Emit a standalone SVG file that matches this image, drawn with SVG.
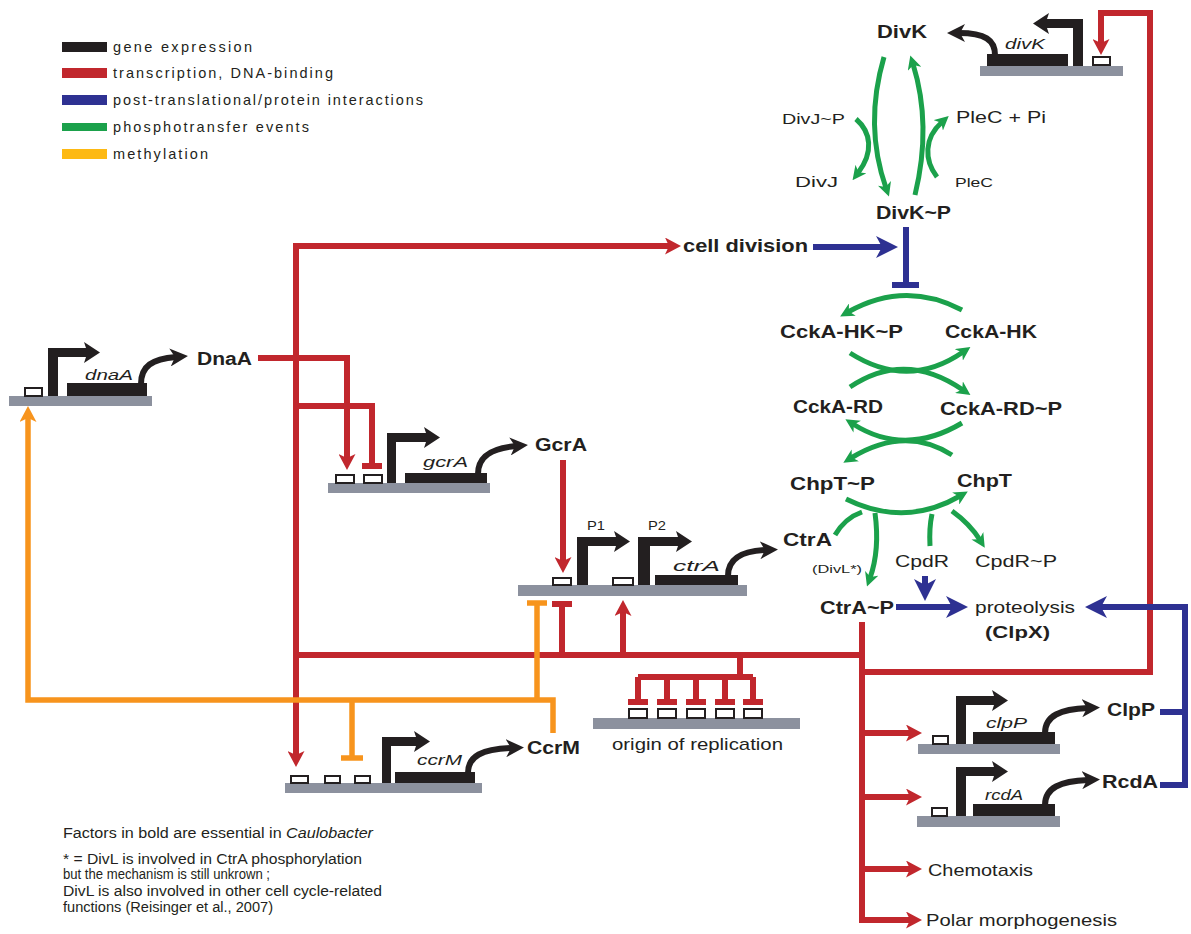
<svg xmlns="http://www.w3.org/2000/svg" width="1191" height="934" viewBox="0 0 1191 934">
<defs>
<style>
text{font-family:"Liberation Sans",Arial,sans-serif;fill:#231f20}
.b{font-weight:bold}
.i{font-style:italic}
.dna{fill:#8c919e}
.gene{fill:#231f20}
.box{fill:#fff;stroke:#231f20;stroke-width:2}
.r{stroke:#c1272d;stroke-width:6;fill:none}
.bl{stroke:#2e3192;stroke-width:6;fill:none}
.g{stroke:#1ba14b;stroke-width:5;fill:none}
.o{stroke:#f7941d;stroke-width:5.5;fill:none}
.k{stroke:#231f20;stroke-width:6;fill:none}
</style>
<marker id="aR" markerUnits="userSpaceOnUse" viewBox="0 0 16 17" refX="5" refY="8.5" markerWidth="16" markerHeight="17" orient="auto-start-reverse"><path d="M0,0 L16,8.5 L0,17 L4,8.5 z" fill="#c1272d"/></marker>
<marker id="aO" markerUnits="userSpaceOnUse" viewBox="0 0 16 17" refX="5" refY="8.5" markerWidth="16" markerHeight="17" orient="auto-start-reverse"><path d="M0,0 L16,8.5 L0,17 L4,8.5 z" fill="#f7941d"/></marker>
<marker id="aB" markerUnits="userSpaceOnUse" viewBox="0 0 22 22" refX="7" refY="11" markerWidth="22" markerHeight="22" orient="auto"><path d="M0,0 L22,11 L0,22 L6,11 z" fill="#2e3192"/></marker>
<marker id="aG" markerUnits="userSpaceOnUse" viewBox="0 0 14 14" refX="5" refY="7" markerWidth="14" markerHeight="14" orient="auto"><path d="M0,0 L14,7 L0,14 L4,7 z" fill="#1ba14b"/></marker>
<marker id="aK" markerUnits="userSpaceOnUse" viewBox="0 0 18 18" refX="6" refY="9" markerWidth="18" markerHeight="18" orient="auto"><path d="M0,0 L18,9 L0,18 L5,9 z" fill="#231f20"/></marker>
</defs>
<rect width="1191" height="934" fill="#fff"/>

<g id="legend">
<rect x="62" y="42" width="45" height="10" fill="#231f20"/>
<rect x="62" y="68" width="45" height="10" fill="#c1272d"/>
<rect x="62" y="95" width="45" height="10" fill="#2e3192"/>
<rect x="62" y="123" width="45" height="8" fill="#1ba14b"/>
<rect x="62" y="149" width="45" height="10" fill="#fdb913"/>
<text x="113" y="52" font-size="14.5" textLength="139">gene expression</text>
<text x="113" y="78" font-size="14.5" textLength="220">transcription, DNA-binding</text>
<text x="113" y="105" font-size="14.5" textLength="310">post-translational/protein interactions</text>
<text x="113" y="132" font-size="14.5" textLength="196">phosphotransfer events</text>
<text x="113" y="159" font-size="14.5" textLength="95">methylation</text>
</g>

<g id="connectors">
<path class="r" d="M670,246 H296 V756" marker-start="url(#aR)" marker-end="url(#aR)"/>
<path class="r" d="M258,358 H347 V459" marker-end="url(#aR)"/>
<path class="r" d="M296,406 H372 V466"/>
<path class="r" d="M362,466 H382"/>
<path class="r" d="M563,460 V562" marker-end="url(#aR)"/>
<path class="r" d="M562,655 V604"/>
<path class="r" d="M552,604 H572"/>
<path class="r" d="M623,655 V611" marker-end="url(#aR)"/>
<path class="r" d="M296,655 H862"/>
<path class="r" d="M862,622 V920 H911" marker-end="url(#aR)"/>
<path class="r" d="M862,733 H911" marker-end="url(#aR)"/>
<path class="r" d="M862,797 H911" marker-end="url(#aR)"/>
<path class="r" d="M862,869 H911" marker-end="url(#aR)"/>
<path class="r" d="M862,672 H1150 V13 H1101 V44" marker-end="url(#aR)"/>
<path class="r" d="M740,655 V677 M638,677 H753 M638,677 V702 M667,677 V702 M696,677 V702 M725,677 V702 M753,677 V702"/>
<path class="r" d="M628,702 H648 M657,702 H677 M686,702 H706 M715,702 H735 M743,702 H763"/>
<path class="o" d="M28,417 V700 H553 V733" marker-start="url(#aO)"/>
<path class="o" d="M537,700 V603"/>
<path class="o" d="M527,603 H547"/>
<path class="o" d="M352,700 V758"/>
<path class="o" d="M341,758 H363"/>
<path class="bl" d="M813,247 H883" marker-end="url(#aB)"/>
<path class="bl" d="M906,227 V285"/>
<path class="bl" d="M892,285 H919" stroke-width="9"/>
<path class="bl" d="M896,607 H953" marker-end="url(#aB)"/>
<path class="bl" d="M925,576 V586" marker-end="url(#aB)"/>
<path class="bl" d="M1160,712 H1185 V607 H1100" marker-end="url(#aB)"/>
<path class="bl" d="M1160,785 H1185 V712"/>
<path class="g" d="M884,57 Q864,125 886,188" marker-end="url(#aG)"/>
<path class="g" d="M915,195 Q932,125 913,64" marker-end="url(#aG)"/>
<path class="g" d="M856,119 C871,132 874,152 858,173" marker-end="url(#aG)"/>
<path class="g" d="M937,177 C924,160 924,138 942,122" marker-end="url(#aG)"/>
<path class="g" d="M962,310 Q905,280 848,312" marker-end="url(#aG)"/>
<path class="g" d="M850,353 Q908,390 963,352" marker-end="url(#aG)"/>
<path class="g" d="M850,387 Q905,350 963,390" marker-end="url(#aG)"/>
<path class="g" d="M962,423 Q905,457 853,424" marker-end="url(#aG)"/>
<path class="g" d="M952,455 Q905,425 851,458" marker-end="url(#aG)"/>
<path class="g" d="M846,499 Q905,528 960,496" marker-end="url(#aG)"/>
<path class="g" d="M835,535 Q845,518 862,512"/>
<path class="g" d="M875,513 Q880,550 870,578" marker-end="url(#aG)"/>
<path class="g" d="M930,546 Q929,528 932,514"/>
<path class="g" d="M952,511 Q970,524 980,540" marker-end="url(#aG)"/>
</g>

<g id="dnaA">
<rect class="dna" x="9" y="396" width="143" height="10"/>
<rect class="box" x="25" y="388" width="17" height="8"/>
<polygon class="gene" points="48,396 48,348 86,348 84,342 100,352.5 84,363 86,357 58,357 58,396"/>
<rect class="gene" x="67" y="383" width="80" height="13"/>
<path class="k" d="M141,384 C141,366 152,359 176,357" marker-end="url(#aK)"/>
<text class="i" x="85" y="380" font-size="15" textLength="48" lengthAdjust="spacingAndGlyphs">dnaA</text>
<text class="b" x="197" y="365" font-size="18" textLength="55" lengthAdjust="spacingAndGlyphs">DnaA</text>
</g>

<g id="gcrA">
<rect class="dna" x="328" y="483" width="162" height="10"/>
<rect class="box" x="336" y="475" width="18" height="8"/>
<rect class="box" x="364" y="475" width="18" height="8"/>
<polygon class="gene" points="387,483 387,433 426,433 424,427 440,437.5 424,448 426,442 396,442 396,483"/>
<rect class="gene" x="405" y="473" width="82" height="10"/>
<path class="k" d="M478,474 C478,456 492,448 516,446" marker-end="url(#aK)"/>
<text class="i" x="423" y="467" font-size="15" textLength="45" lengthAdjust="spacingAndGlyphs">gcrA</text>
<text class="b" x="535" y="451" font-size="18" textLength="52" lengthAdjust="spacingAndGlyphs">GcrA</text>
</g>

<g id="ctrA">
<rect class="dna" x="518" y="585" width="229" height="11"/>
<rect class="box" x="553" y="578" width="18" height="7"/>
<rect class="box" x="613" y="578" width="20" height="7"/>
<polygon class="gene" points="577,585 577,537 616,537 614,531 630,541.5 614,552 616,546 588,546 588,585"/>
<polygon class="gene" points="638,585 638,537 678,537 676,531 692,541.5 676,552 678,546 650,546 650,585"/>
<rect class="gene" x="655" y="575" width="83" height="10"/>
<path class="k" d="M728,576 C728,558 742,551 766,550" marker-end="url(#aK)"/>
<text x="587" y="530" font-size="13" textLength="18" lengthAdjust="spacingAndGlyphs">P1</text>
<text x="648" y="530" font-size="13" textLength="18" lengthAdjust="spacingAndGlyphs">P2</text>
<text class="i" x="673" y="571" font-size="15" textLength="47" lengthAdjust="spacingAndGlyphs">ctrA</text>
</g>

<g id="ccrM">
<rect class="dna" x="285" y="783" width="197" height="10"/>
<rect class="box" x="291" y="776" width="17" height="7"/>
<rect class="box" x="325" y="776" width="15" height="7"/>
<rect class="box" x="355" y="776" width="15" height="7"/>
<polygon class="gene" points="382,783 382,737 416,737 414,731 430,741.5 414,752 416,746 391,746 391,783"/>
<rect class="gene" x="395" y="772" width="80" height="11"/>
<path class="k" d="M468,773 C468,756 482,749 512,748" marker-end="url(#aK)"/>
<text class="i" x="417" y="765" font-size="15" textLength="45" lengthAdjust="spacingAndGlyphs">ccrM</text>
<text class="b" x="527" y="754" font-size="18" textLength="53" lengthAdjust="spacingAndGlyphs">CcrM</text>
</g>

<g id="origin">
<rect class="dna" x="593" y="718" width="207" height="11"/>
<rect class="box" x="629" y="709" width="18" height="9"/>
<rect class="box" x="658" y="709" width="18" height="9"/>
<rect class="box" x="687" y="709" width="18" height="9"/>
<rect class="box" x="716" y="709" width="18" height="9"/>
<rect class="box" x="744" y="709" width="18" height="9"/>
<text x="612" y="750" font-size="17" textLength="171" lengthAdjust="spacingAndGlyphs">origin of replication</text>
</g>

<g id="divK">
<rect class="dna" x="980" y="66" width="143" height="10"/>
<rect class="box" x="1093" y="57" width="17" height="8"/>
<polygon class="gene" points="1083,66 1083,19 1047,19 1049,13 1033,23.5 1049,34 1047,28 1073,28 1073,66"/>
<rect class="gene" x="987" y="54" width="81" height="12"/>
<path class="k" d="M995,55 C995,40 985,33 959,33" marker-end="url(#aK)"/>
<text class="i" x="1005" y="49" font-size="15" textLength="40" lengthAdjust="spacingAndGlyphs">divK</text>
<text class="b" x="877" y="38" font-size="18" textLength="50" lengthAdjust="spacingAndGlyphs">DivK</text>
</g>

<g id="divk-cycle">
<text x="782" y="124" font-size="15" textLength="63" lengthAdjust="spacingAndGlyphs">DivJ~P</text>
<text x="795" y="187" font-size="15" textLength="43" lengthAdjust="spacingAndGlyphs">DivJ</text>
<text x="956" y="123" font-size="17" textLength="90" lengthAdjust="spacingAndGlyphs">PleC + Pi</text>
<text x="955" y="187" font-size="13" textLength="38" lengthAdjust="spacingAndGlyphs">PleC</text>
<text class="b" x="876" y="219" font-size="18" textLength="75" lengthAdjust="spacingAndGlyphs">DivK~P</text>
</g>

<g id="cell-division">
<text class="b" x="683" y="252" font-size="18" textLength="125" lengthAdjust="spacingAndGlyphs">cell division</text>
</g>

<g id="cckA">
<text class="b" x="780" y="338" font-size="18" textLength="123" lengthAdjust="spacingAndGlyphs">CckA-HK~P</text>
<text class="b" x="945" y="338" font-size="18" textLength="92" lengthAdjust="spacingAndGlyphs">CckA-HK</text>
<text class="b" x="793" y="413" font-size="18" textLength="90" lengthAdjust="spacingAndGlyphs">CckA-RD</text>
<text class="b" x="940" y="415" font-size="18" textLength="122" lengthAdjust="spacingAndGlyphs">CckA-RD~P</text>
</g>

<g id="chpT">
<text class="b" x="790" y="490" font-size="18" textLength="85" lengthAdjust="spacingAndGlyphs">ChpT~P</text>
<text class="b" x="957" y="487" font-size="18" textLength="55" lengthAdjust="spacingAndGlyphs">ChpT</text>
</g>

<g id="ctrA-protein">
<text class="b" x="783" y="546" font-size="18" textLength="49" lengthAdjust="spacingAndGlyphs">CtrA</text>
<text x="812" y="573" font-size="10" textLength="50" lengthAdjust="spacingAndGlyphs">(DivL*)</text>
<text class="b" x="820" y="614" font-size="18" textLength="74" lengthAdjust="spacingAndGlyphs">CtrA~P</text>
</g>

<g id="cpdR">
<text x="895" y="567" font-size="16" textLength="54" lengthAdjust="spacingAndGlyphs">CpdR</text>
<text x="975" y="567" font-size="16" textLength="82" lengthAdjust="spacingAndGlyphs">CpdR~P</text>
</g>

<g id="proteolysis">
<text x="975" y="613" font-size="17" textLength="100" lengthAdjust="spacingAndGlyphs">proteolysis</text>
<text class="b" x="985" y="638" font-size="17" textLength="65" lengthAdjust="spacingAndGlyphs">(ClpX)</text>
</g>

<g id="clpP">
<rect class="dna" x="918" y="744" width="142" height="10"/>
<rect class="box" x="933" y="736" width="15" height="8"/>
<polygon class="gene" points="956,744 956,696 994,696 992,690 1008,700.5 992,711 994,705 966,705 966,744"/>
<rect class="gene" x="973" y="732" width="82" height="12"/>
<path class="k" d="M1045,733 C1045,716 1060,709 1088,708" marker-end="url(#aK)"/>
<text class="i" x="986" y="728" font-size="15" textLength="41" lengthAdjust="spacingAndGlyphs">clpP</text>
<text class="b" x="1107" y="716" font-size="18" textLength="48" lengthAdjust="spacingAndGlyphs">ClpP</text>
</g>

<g id="rcdA">
<rect class="dna" x="917" y="816" width="143" height="11"/>
<rect class="box" x="932" y="808" width="15" height="8"/>
<polygon class="gene" points="956,816 956,767 994,767 992,761 1008,771.5 992,782 994,776 966,776 966,816"/>
<rect class="gene" x="973" y="804" width="82" height="12"/>
<path class="k" d="M1045,805 C1045,788 1060,781 1088,780" marker-end="url(#aK)"/>
<text class="i" x="985" y="800" font-size="15" textLength="38" lengthAdjust="spacingAndGlyphs">rcdA</text>
<text class="b" x="1102" y="788" font-size="18" textLength="56" lengthAdjust="spacingAndGlyphs">RcdA</text>
</g>

<g id="outputs">
<text x="928" y="876" font-size="17" textLength="105" lengthAdjust="spacingAndGlyphs">Chemotaxis</text>
<text x="926" y="926" font-size="17" textLength="191" lengthAdjust="spacingAndGlyphs">Polar morphogenesis</text>
</g>

<g id="notes">
<text x="63" y="838" font-size="14" textLength="310" lengthAdjust="spacingAndGlyphs">Factors in bold are essential in <tspan class="i">Caulobacter</tspan></text>
<text x="63" y="864" font-size="14" textLength="299" lengthAdjust="spacingAndGlyphs">* = DivL is involved in CtrA phosphorylation</text>
<text x="63" y="879" font-size="14" textLength="207" lengthAdjust="spacingAndGlyphs">but the mechanism is still unkrown ;</text>
<text x="63" y="896" font-size="14" textLength="319" lengthAdjust="spacingAndGlyphs">DivL is also involved in other cell cycle-related</text>
<text x="63" y="912" font-size="14" textLength="210" lengthAdjust="spacingAndGlyphs">functions (Reisinger et al., 2007)</text>
</g>
</svg>
